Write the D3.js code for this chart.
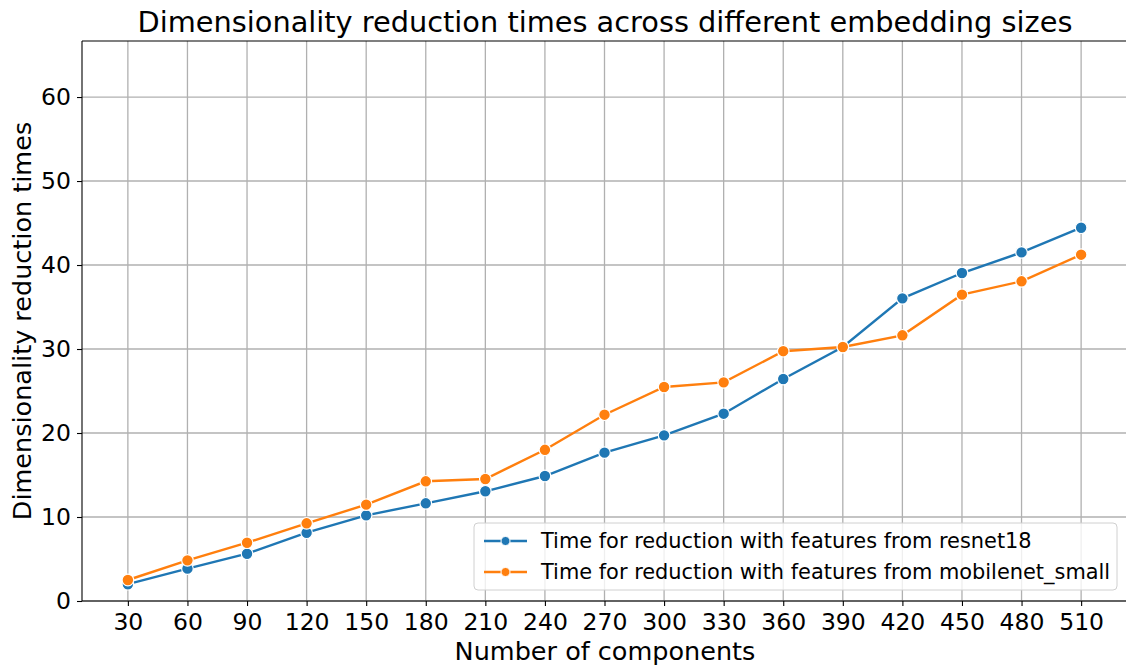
<!DOCTYPE html>
<html>
<head>
<meta charset="utf-8">
<script src="https://cdn.jsdelivr.net/npm/d3@7"></script>
<style>
  html, body { margin: 0; padding: 0; background: #fff; }
  svg { display: block; font-family: "DejaVu Sans", sans-serif; }
</style>
</head>
<body>
<svg id="chart" width="1126" height="668"></svg>
<script>
const components = [30, 60, 90, 120, 150, 180, 210, 240, 270, 300, 330, 360, 390, 420, 450, 480, 510];
const resnet18 = [2.0, 3.85, 5.63, 8.13, 10.2, 11.63, 13.06, 14.88, 17.66, 19.72, 22.3, 26.43, 30.24, 36.03, 39.05, 41.5, 44.44];
const mobilenetSmall = [2.5, 4.84, 6.94, 9.25, 11.47, 14.25, 14.52, 18.0, 22.18, 25.48, 26.03, 29.74, 30.24, 31.63, 36.47, 38.06, 41.23];
const yTicks = [0, 10, 20, 30, 40, 50, 60];
const seriesNames = ["Time for reduction with features from resnet18", "Time for reduction with features from mobilenet_small"];
const colors = ["#1f77b4", "#ff7f0e"];
const titleText = "Dimensionality reduction times across different embedding sizes";
const xLabel = "Number of components";
const yLabel = "Dimensionality reduction times";

const svg = d3.select("#chart");
const margin = {left: 82, top: 41, right: -1, bottom: 67};
const W = 1126, H = 668;
const iw = W - margin.left - margin.right;
const ih = H - margin.top - margin.bottom;

const x = d3.scalePoint().domain(components).range([0, iw]).padding(0.77);
const y = d3.scaleLinear().domain([0, 66.67]).range([ih, 0]);

const g = svg.append("g").attr("transform", `translate(${margin.left},${margin.top})`);

// grid
g.append("g").selectAll("line").data(components).join("line")
  .attr("x1", d => x(d)).attr("x2", d => x(d)).attr("y1", 0).attr("y2", ih)
  .attr("stroke", "#b0b0b0").attr("stroke-width", 1.3);
g.append("g").selectAll("line").data(yTicks).join("line")
  .attr("x1", 0).attr("x2", iw).attr("y1", d => y(d)).attr("y2", d => y(d))
  .attr("stroke", "#b0b0b0").attr("stroke-width", 1.3);

// axes
const xAxis = g.append("g").attr("transform", `translate(0,${ih})`)
  .call(d3.axisBottom(x).tickSize(5).tickPadding(7));
const yAxis = g.append("g")
  .call(d3.axisLeft(y).tickValues(yTicks).tickSize(5).tickPadding(6));
[xAxis, yAxis].forEach(a => {
  a.select(".domain").remove();
  a.selectAll("line").attr("stroke", "#000").attr("stroke-width", 1.1);
  a.selectAll("text").attr("font-family", "DejaVu Sans").attr("font-size", 23.5).attr("fill", "#000");
});

// spines
g.append("line").attr("x1", 0).attr("x2", 0).attr("y1", 0).attr("y2", ih).attr("stroke", "#000").attr("stroke-width", 1.1);
g.append("line").attr("x1", 0).attr("x2", iw).attr("y1", ih).attr("y2", ih).attr("stroke", "#000").attr("stroke-width", 1.1);
g.append("line").attr("x1", 0).attr("x2", iw).attr("y1", 0).attr("y2", 0).attr("stroke", "#000").attr("stroke-width", 1.1);

// lines
const series = [resnet18, mobilenetSmall];
const line = d3.line().x((d, i) => x(components[i])).y(d => y(d));
series.forEach((s, k) => {
  g.append("path").datum(s).attr("d", line).attr("fill", "none")
    .attr("stroke", colors[k]).attr("stroke-width", 2.4);
  g.append("g").selectAll("circle").data(s).join("circle")
    .attr("cx", (d, i) => x(components[i])).attr("cy", d => y(d)).attr("r", 5.8)
    .attr("fill", colors[k]).attr("stroke", "#fff").attr("stroke-width", 1.2);
});

// title & labels
svg.append("text").attr("x", 605).attr("y", 32).attr("text-anchor", "middle")
  .attr("font-size", 28.8).attr("fill", "#000").text(titleText);
svg.append("text").attr("x", 605).attr("y", 660).attr("text-anchor", "middle")
  .attr("font-size", 25.5).attr("fill", "#000").text(xLabel);
svg.append("text").attr("transform", `translate(31,${margin.top + ih / 2}) rotate(-90)`)
  .attr("text-anchor", "middle").attr("font-size", 25.5).attr("fill", "#000").text(yLabel);

// legend
const lg = svg.append("g").attr("transform", "translate(474,523)");
lg.append("rect").attr("width", 643).attr("height", 67).attr("rx", 4)
  .attr("fill", "#fff").attr("fill-opacity", 0.8).attr("stroke", "#d0d0d0").attr("stroke-width", 1);
seriesNames.forEach((n, k) => {
  const yy = 18 + k * 31;
  lg.append("line").attr("x1", 10).attr("x2", 53).attr("y1", yy).attr("y2", yy)
    .attr("stroke", colors[k]).attr("stroke-width", 2.4);
  lg.append("circle").attr("cx", 31.5).attr("cy", yy).attr("r", 4.5)
    .attr("fill", colors[k]).attr("stroke", "#fff").attr("stroke-width", 1);
  lg.append("text").attr("x", 67).attr("y", yy).attr("dy", "0.35em")
    .attr("font-size", 20.9).attr("fill", "#000").text(n);
});
</script>
</body>
</html>
